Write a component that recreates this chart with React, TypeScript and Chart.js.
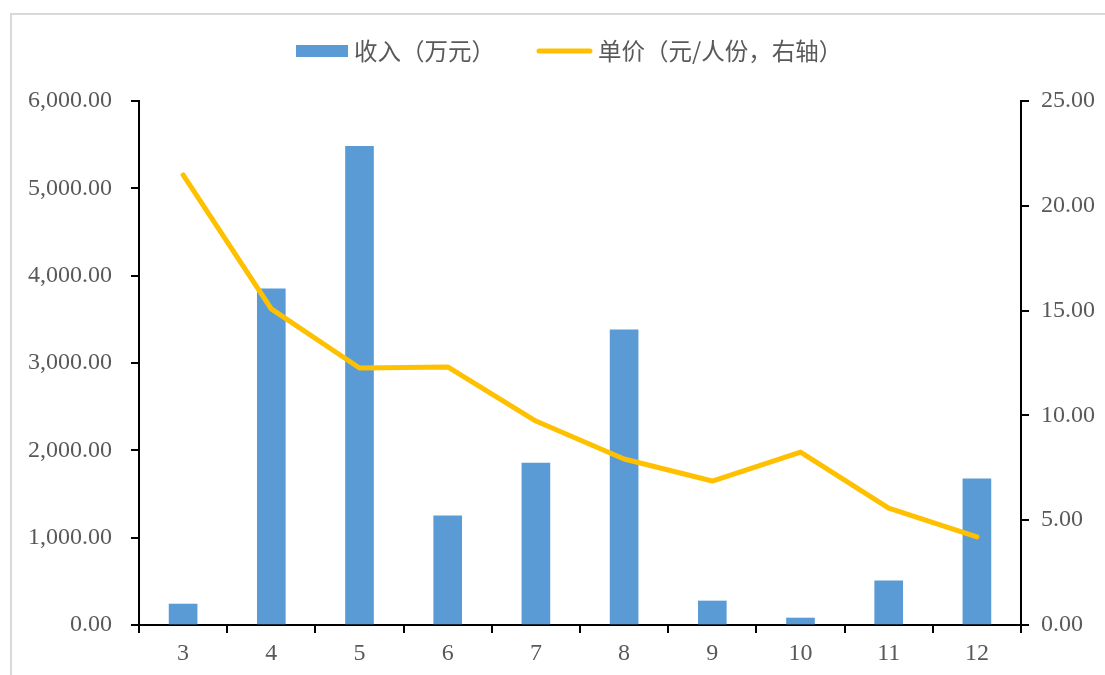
import React, { useEffect, useRef } from "react";
import { Chart, registerables } from "chart.js";

Chart.register(...registerables);

const categories = ["3", "4", "5", "6", "7", "8", "9", "10", "11", "12"];
const revenue = [240, 3850, 5480, 1250, 1855, 3380, 275, 80, 505, 1675];
const unitPrice = [21.47, 15.08, 12.26, 12.31, 9.73, 7.92, 6.87, 8.25, 5.58, 4.2];
const revenueLabel = "收入（万元）";
const priceLabel = "单价（元/人份，右轴）";

const BAR_COLOR = "#5B9BD5";
const LINE_COLOR = "#FFC000";
const TEXT_COLOR = "#595959";
const SERIF = "'Liberation Serif', 'Times New Roman', serif";
const CJK = "'Noto Sans CJK SC', sans-serif";

const framePlugin = {
  id: "frame",
  beforeDraw(chart: any) {
    const ctx = chart.ctx;
    ctx.save();
    ctx.fillStyle = "#ffffff";
    ctx.fillRect(0, 0, chart.width, chart.height);
    ctx.strokeStyle = "#d9d9d9";
    ctx.lineWidth = 2;
    ctx.strokeRect(11, 14, 2000, 2000);
    ctx.restore();
  },
};

const legendPlugin = {
  id: "customLegend",
  afterDraw(chart: any) {
    const ctx = chart.ctx;
    ctx.save();
    const cy = 51;
    ctx.fillStyle = BAR_COLOR;
    ctx.fillRect(296, cy - 6, 52, 12);
    ctx.font = `23.5px ${CJK}`;
    ctx.fillStyle = TEXT_COLOR;
    ctx.textBaseline = "middle";
    ctx.textAlign = "left";
    ctx.fillText(revenueLabel, 354, cy);
    ctx.strokeStyle = LINE_COLOR;
    ctx.lineWidth = 5;
    ctx.lineCap = "round";
    ctx.beginPath();
    ctx.moveTo(539, cy);
    ctx.lineTo(590, cy);
    ctx.stroke();
    ctx.fillText(priceLabel, 598, cy);
    ctx.restore();
  },
};

export default function App() {
  const ref = useRef<HTMLCanvasElement>(null);
  useEffect(() => {
    if (!ref.current) return;
    const tickFont = { family: SERIF, size: 24 };
    const chart = new Chart(ref.current, {
      type: "bar",
      data: {
        labels: categories,
        datasets: [
          {
            type: "line",
            label: priceLabel,
            data: unitPrice,
            yAxisID: "y1",
            borderColor: LINE_COLOR,
            backgroundColor: LINE_COLOR,
            borderWidth: 5,
            pointRadius: 0,
            tension: 0,
            borderCapStyle: "round",
            borderJoinStyle: "round",
            order: 0,
          } as any,
          {
            type: "bar",
            label: revenueLabel,
            data: revenue,
            yAxisID: "y",
            backgroundColor: BAR_COLOR,
            barThickness: 28,
            order: 1,
          },
        ],
      },
      plugins: [framePlugin, legendPlugin],
      options: {
        responsive: false,
        animation: false,
        layout: { padding: { top: 101, left: 0, right: 0, bottom: 0 } },
        plugins: { legend: { display: false }, tooltip: { enabled: false } },
        scales: {
          x: {
            offset: true,
            border: { display: true, color: "#000", width: 2 },
            grid: {
              offset: true,
              drawOnChartArea: false,
              drawTicks: true,
              tickLength: 8,
              color: "#000",
              lineWidth: 2,
            },
            ticks: { color: TEXT_COLOR, font: tickFont, padding: 6, maxRotation: 0 },
            afterFit(scale: any) {
              scale.height = 50;
            },
          },
          y: {
            position: "left",
            min: 0,
            max: 6000,
            border: { display: true, color: "#000", width: 2 },
            grid: {
              drawOnChartArea: false,
              drawTicks: true,
              tickLength: 8,
              color: "#000",
              lineWidth: 2,
            },
            ticks: {
              stepSize: 1000,
              color: TEXT_COLOR,
              font: tickFont,
              padding: 19,
              callback: (v: any) =>
                Number(v).toLocaleString("en-US", {
                  minimumFractionDigits: 2,
                  maximumFractionDigits: 2,
                }),
            },
            afterFit(scale: any) {
              scale.width = 139;
            },
          },
          y1: {
            position: "right",
            min: 0,
            max: 25,
            border: { display: true, color: "#000", width: 2 },
            grid: {
              drawOnChartArea: false,
              drawTicks: true,
              tickLength: 8,
              color: "#000",
              lineWidth: 2,
            },
            ticks: {
              stepSize: 5,
              color: TEXT_COLOR,
              font: tickFont,
              padding: 12,
              callback: (v: any) => Number(v).toFixed(2),
            },
            afterFit(scale: any) {
              scale.width = 84;
            },
          },
        },
      },
    });
    return () => chart.destroy();
  }, []);
  return (
    <div style={{ position: "absolute", left: 0, top: 0, width: 1105, height: 675, overflow: "hidden" }}>
      <canvas ref={ref} width={1105} height={675} style={{ display: "block" }} />
    </div>
  );
}
